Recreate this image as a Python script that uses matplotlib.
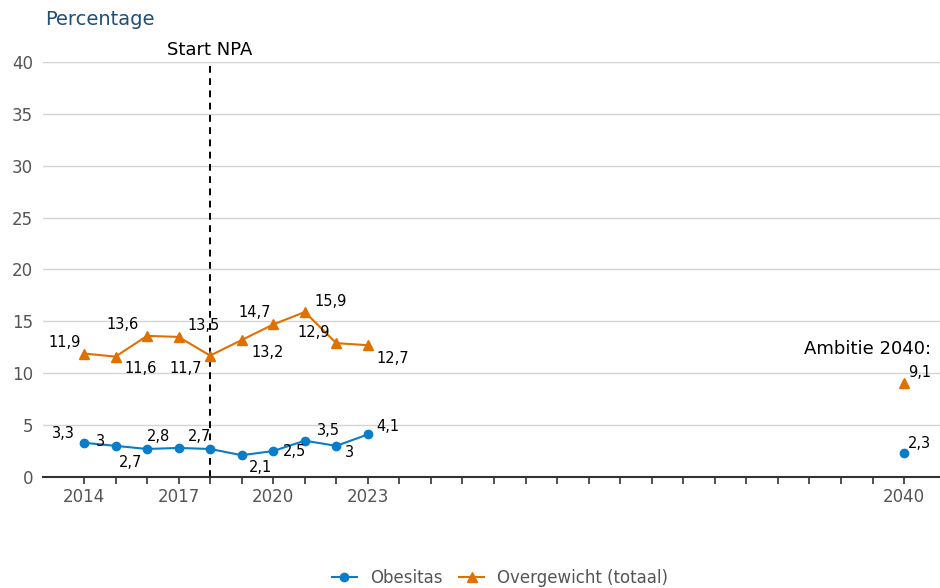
import matplotlib.pyplot as plt

jaren = [2014, 2015, 2016, 2017, 2018, 2019, 2020, 2021, 2022, 2023]
obesitas = [3.3, 3.0, 2.7, 2.8, 2.7, 2.1, 2.5, 3.5, 3.0, 4.1]
overgewicht = [11.9, 11.6, 13.6, 13.5, 11.7, 13.2, 14.7, 15.9, 12.9, 12.7]
ambitie_jaar = 2040
ambitie_obesitas = 2.3
ambitie_overgewicht = 9.1
start_npa = 2018
xtick_labels = [2014, 2017, 2020, 2023, 2040]

# label offsets in pixels (dx, dy), dy positive = omhoog
obes_offsets = [(-21, 9), (-15, 4), (-16, -14), (-20, 11), (-11, 12),
                (19, -12), (21, 0), (24, 10), (13, -7), (20, 8)]
over_offsets = [(-19, 11), (25, -12), (-24, 11), (25, 11), (-24, -13),
                (26, -12), (-19, 12), (26, 11), (-23, 11), (25, -13)]

blauw = '#0a7cc8'
oranje = '#e07100'

plt.rcParams['font.family'] = 'DejaVu Sans'
fig = plt.figure(figsize=(9.4, 5.88), dpi=100)
ax = fig.add_axes([0.0457, 0.1888, 0.9543, 0.7058])

ax.plot(jaren, obesitas, '-o', color=blauw, lw=1.5, ms=6, label='Obesitas')
ax.plot(jaren, overgewicht, '-^', color=oranje, lw=1.5, ms=7, label='Overgewicht (totaal)')
ax.plot([ambitie_jaar], [ambitie_obesitas], 'o', color=blauw, ms=6)
ax.plot([ambitie_jaar], [ambitie_overgewicht], '^', color=oranje, ms=7)


def fmt(v):
    s = ('%.1f' % v).replace('.', ',')
    return s[:-2] if s.endswith(',0') else s


for x, y, (dx, dy) in zip(jaren, obesitas, obes_offsets):
    ax.annotate(fmt(y), (x, y), xytext=(dx * 0.72, dy * 0.72), textcoords='offset points',
                ha='center', va='center', fontsize=10.5, color='black')
for x, y, (dx, dy) in zip(jaren, overgewicht, over_offsets):
    ax.annotate(fmt(y), (x, y), xytext=(dx * 0.72, dy * 0.72), textcoords='offset points',
                ha='center', va='center', fontsize=10.5, color='black')
ax.annotate(fmt(ambitie_obesitas), (ambitie_jaar, ambitie_obesitas), xytext=(11, 7),
            textcoords='offset points', ha='center', va='center', fontsize=10.5)
ax.annotate(fmt(ambitie_overgewicht), (ambitie_jaar, ambitie_overgewicht), xytext=(11, 7),
            textcoords='offset points', ha='center', va='center', fontsize=10.5)

ax.axvline(start_npa, color='black', lw=1.4, ls=(0, (3.5, 2.8)), zorder=1)
ax.text(start_npa, 40.25, 'Start NPA', ha='center', va='bottom', fontsize=13)
ax.text(2040.86, 12.35, 'Ambitie 2040:', ha='right', va='center', fontsize=13)

ax.set_xlim(2012.7, 2041.14)
ax.set_ylim(0, 40)
ax.set_yticks(range(0, 41, 5))
ax.set_xticks(range(2014, 2041))
ax.set_xticklabels([str(j) if j in xtick_labels else '' for j in range(2014, 2041)])
ax.tick_params(axis='y', length=0, pad=7, labelsize=12, labelcolor='#555555')
ax.tick_params(axis='x', length=5, width=1.2, color='#333333', pad=3, labelsize=12, labelcolor='#555555')
ax.grid(axis='y', color='#d4d4d4', lw=1)
ax.set_axisbelow(True)
for s in ['top', 'right', 'left']:
    ax.spines[s].set_visible(False)
ax.spines['bottom'].set_color('#333333')
ax.spines['bottom'].set_linewidth(1.5)

fig.text(0.048, 0.967, 'Percentage', fontsize=14, color='#1f4e79', va='center', ha='left')

leg = fig.legend(loc='center', bbox_to_anchor=(0.532, 0.017), ncol=2, frameon=False,
                 fontsize=12, handlelength=1.5, columnspacing=1.0)
for t in leg.get_texts():
    t.set_color('#555555')

fig.savefig('out.png', dpi=100)
